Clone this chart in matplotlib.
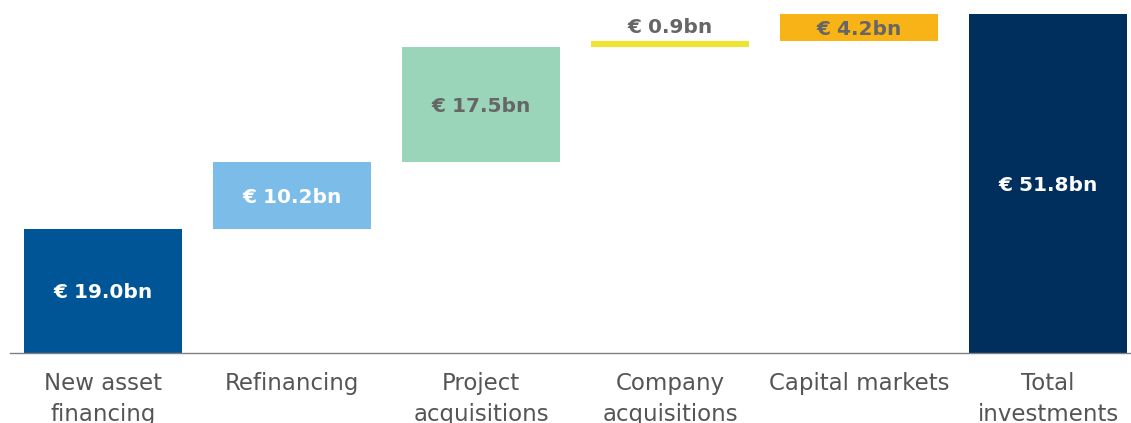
import numpy as np
import matplotlib.pyplot as plt

plt.rcParams['font.family'] = ['DejaVu Sans']

categories = ['New asset\nfinancing', 'Refinancing', 'Project\nacquisitions',
              'Company\nacquisitions', 'Capital markets', 'Total\ninvestments']
values = [19.0, 10.2, 17.5, 0.9, 4.2, 51.8]
labels = ['€ 19.0bn', '€ 10.2bn', '€ 17.5bn', '€ 0.9bn', '€ 4.2bn', '€ 51.8bn']
colors = ['#005596', '#7bbde8', '#9ad5b9', '#efe52f', '#f8b316', '#002e5d']
text_colors = ['white', 'white', '#666666', '#666666', '#666666', 'white']

# waterfall bottoms
bottoms = []
run = 0.0
for v in values[:-1]:
    bottoms.append(run)
    run += v
bottoms.append(0.0)

x = np.arange(len(values))

fig = plt.figure(figsize=(11.31, 4.23), dpi=100)
ax = fig.add_axes([10 / 1131, 70 / 423, 1121 / 1131, 353 / 423])

ax.bar(x, values, bottom=bottoms, width=0.836, color=colors)

for i in range(len(values)):
    if values[i] < 2:
        y = bottoms[i] + values[i] + 2.4
    else:
        y = bottoms[i] + values[i] / 2
    ax.text(x[i], y, labels[i], ha='center', va='center_baseline',
            fontsize=14.5, fontweight='semibold', color=text_colors[i])

ax.set_xlim(-0.492, 5.439)
ax.set_ylim(0, 53.94)
ax.set_xticks(x)
ax.set_xticklabels(categories, fontsize=16.5, color='#555555', linespacing=1.4)
ax.tick_params(axis='x', length=0, pad=14)
ax.set_yticks([])
for s in ['top', 'right', 'left']:
    ax.spines[s].set_visible(False)
ax.spines['bottom'].set_color('#808080')
ax.spines['bottom'].set_linewidth(1)

fig.savefig('out.png', dpi=100)
